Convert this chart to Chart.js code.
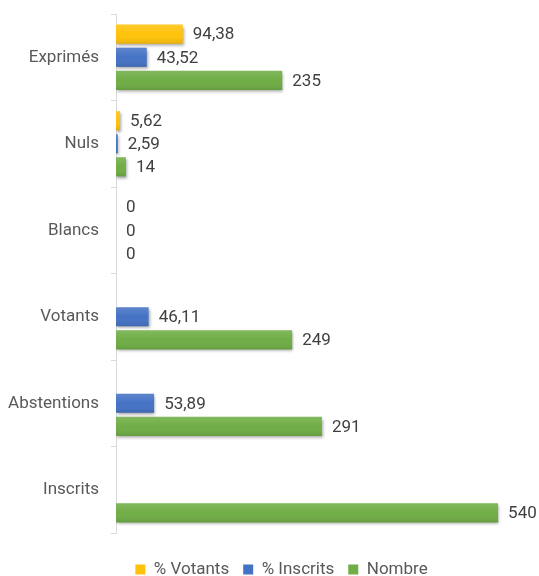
<!DOCTYPE html>
<html><head><meta charset="utf-8">
<script src="https://cdn.jsdelivr.net/npm/chart.js@4/dist/chart.umd.min.js"></script>
<style>html,body{margin:0;padding:0;background:#fff}#wrap{width:539px;height:576px}</style>
</head><body><div id="wrap"><canvas id="c"></canvas></div>
<script>
const categories = ["Exprimés","Nuls","Blancs","Votants","Abstentions","Inscrits"];
const pctVotants = [94.38, 5.62, 0, null, null, null];
const pctInscrits = [43.52, 2.59, 0, 46.11, 53.89, null];
const nombre = [235, 14, 0, 249, 291, 540];
const seriesNames = ["% Votants","% Inscrits","Nombre"];
const colors = ["#FFC20A","#4472C4","#6FAD45"];

const fmt = v => v.toLocaleString('fr-FR', {maximumFractionDigits: 2});
const FONT = "Roboto, 'Noto Sans', sans-serif";

const shadowPlugin = {
  id:'shadow',
  beforeDatasetsDraw(chart){ const c=chart.ctx; c.save(); c.shadowColor='rgba(0,0,0,0.35)'; c.shadowBlur=3; c.shadowOffsetX=1; c.shadowOffsetY=2; },
  afterDatasetsDraw(chart){
    const c=chart.ctx; c.restore();
    chart.data.datasets.forEach((ds,i)=>{
      chart.getDatasetMeta(i).data.forEach((el,j)=>{
        const v=ds.data[j]; if(!v) return;
        const h=el.height, top=el.y-h/2, w=el.x-el.base;
        const g=c.createLinearGradient(0,top,0,top+h);
        g.addColorStop(0,'rgba(255,255,255,0.14)');
        g.addColorStop(0.5,'rgba(255,255,255,0)');
        g.addColorStop(1,'rgba(0,0,0,0.10)');
        c.fillStyle=g; c.fillRect(el.base,top,w,h);
      });
    });
  }
};
const labelPlugin = {
  id:'labels',
  afterDatasetsDraw(chart){
    const c=chart.ctx; c.save();
    c.font = "17px " + FONT; c.fillStyle="#404040"; c.textAlign='left'; c.textBaseline='middle';
    chart.data.datasets.forEach((ds,i)=>{
      const meta=chart.getDatasetMeta(i);
      meta.data.forEach((el,j)=>{
        const v=ds.data[j]; if(v===null||v===undefined) return;
        c.fillText(fmt(v), el.x+10, el.y+1);
      });
    });
    c.restore();
  }
};
const legendShift = {
  id:'legendShift',
  afterLayout(chart){ const l=chart.legend; if(l){ l.top+=14; l.bottom+=14; l.left+=13; l.right+=13; } }
};

new Chart(document.getElementById('c'), {
  type:'bar',
  data:{ labels:categories, datasets:[
    {label:seriesNames[0], data:pctVotants, backgroundColor:colors[0]},
    {label:seriesNames[1], data:pctInscrits, backgroundColor:colors[1]},
    {label:seriesNames[2], data:nombre, backgroundColor:colors[2]}
  ]},
  options:{
    indexAxis:'y', responsive:true, maintainAspectRatio:false, animation:false,
    categoryPercentage:0.8, barPercentage:0.83,
    layout:{padding:{top:14,right:2,left:0,bottom:2}},
    scales:{
      x:{display:false, min:0, max:595},
      y:{
        afterFit(s){ s.width=116; s.paddingTop=0; s.paddingBottom=0; },
        border:{display:true,color:'#d9d9d9',width:1},
        grid:{drawOnChartArea:false, drawTicks:true, tickLength:5, color:'#d9d9d9'},
        ticks:{color:'#595959', font:{family:FONT,size:17}, padding:12}
      }
    },
    plugins:{
      legend:{position:'bottom', labels:{boxWidth:10, boxHeight:10, color:'#595959', font:{family:FONT,size:17}, padding:14}},
      tooltip:{enabled:false}
    }
  },
  plugins:[shadowPlugin,labelPlugin,legendShift]
});
</script></body></html>
